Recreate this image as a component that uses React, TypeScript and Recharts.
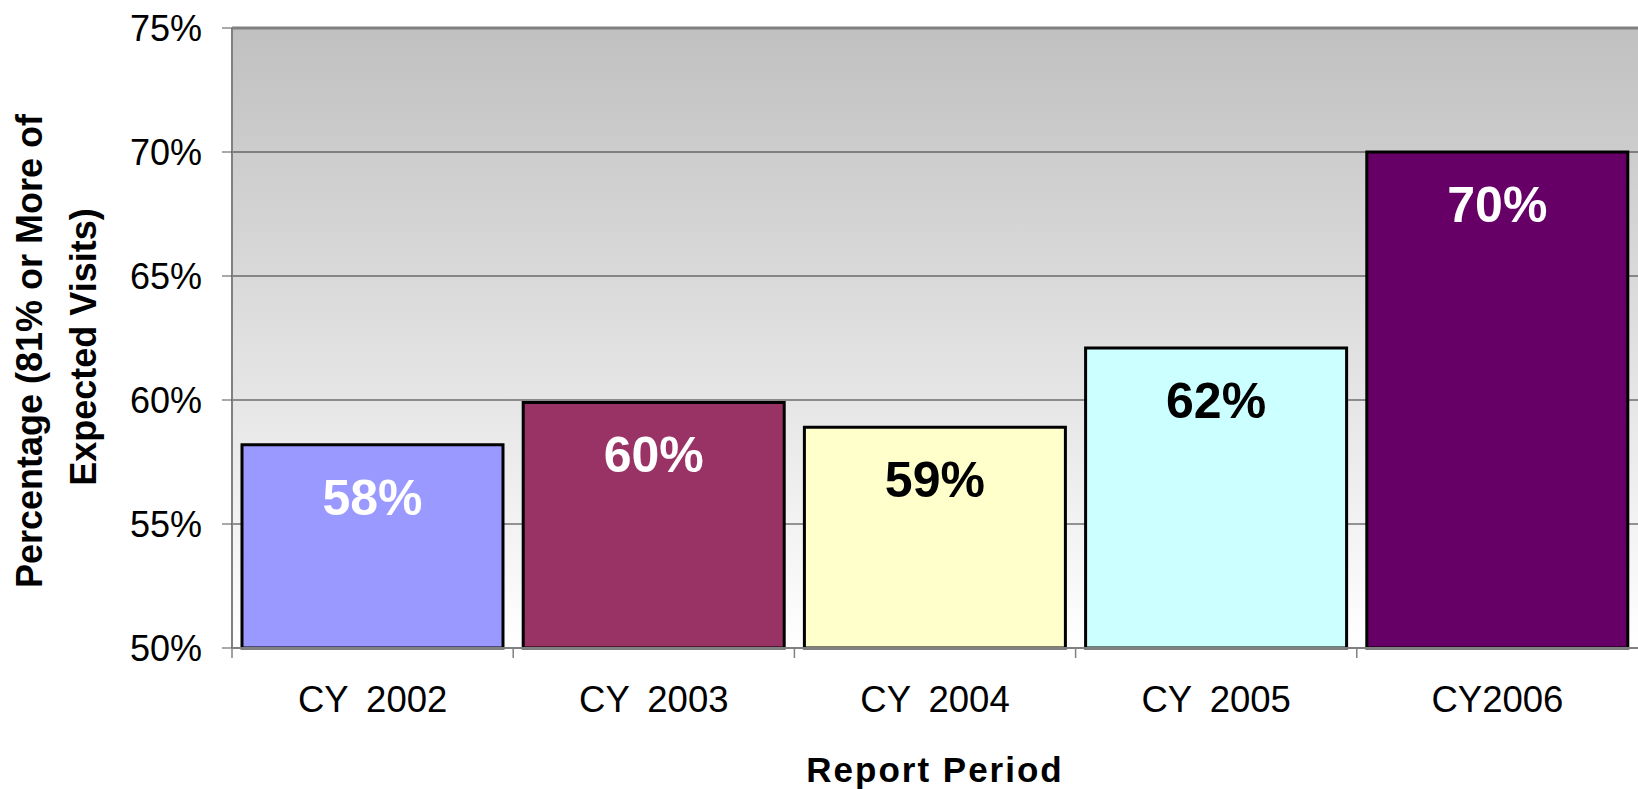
import { BarChart, Bar, XAxis, YAxis, CartesianGrid, ReferenceLine, LabelList, Cell } from "recharts";

const periods = ["CY 2002", "CY 2003", "CY 2004", "CY 2005", "CY2006"];
const percentages = [58.2, 59.9, 58.9, 62.1, 70.0];
const barColors = ["#9999FF", "#993366", "#FFFFCC", "#CCFFFF", "#660066"];
const labelColors = ["#FFFFFF", "#FFFFFF", "#000000", "#000000", "#FFFFFF"];
const yTicks = [50, 55, 60, 65, 70, 75];

const data = periods.map((p, i) => ({ period: p, value: percentages[i] }));

const FONT = "'Liberation Sans', Arial, sans-serif";

// category ticks sit on the band edges, like the original
const XTick = (props: any) => {
  const { x, y, payload } = props;
  const half = payload?.offset ?? 0;
  return (
    <g>
      <line x1={x - half} x2={x - half} y1={y - 38} y2={y - 28} stroke="#808080" strokeWidth={1.5} />
      <text x={x} y={y} dy="0.71em" textAnchor="middle" fontSize={36.5} wordSpacing={8}
        fontFamily={FONT} fill="#000">
        {payload.value}
      </text>
    </g>
  );
};

const ValueLabel = (props: any) => {
  const { x, y, width, value, index } = props;
  return (
    <text x={x + width / 2} y={y + 70} textAnchor="middle" fontSize={50} fontWeight="bold"
      fontFamily={FONT} fill={labelColors[index]}>
      {Math.round(value)}%
    </text>
  );
};

const YTitle = (props: any) => {
  const vb = props.viewBox;
  const cy = vb.y + vb.height / 2;
  return (
    <g fontSize={36} fontWeight="bold" fontFamily={FONT} fill="#000">
      <text x={42} y={cy + 13} textAnchor="middle" transform={`rotate(-90 42 ${cy + 13})`}>
        Percentage (81% or More of
      </text>
      <text x={96} y={cy + 9} textAnchor="middle" transform={`rotate(-90 96 ${cy + 9})`}>
        Expected Visits)
      </text>
    </g>
  );
};

export default function App() {
  return (
    <div style={{ position: "absolute", left: 0, top: 0, width: 1638, height: 789, background: "#fff", overflow: "hidden" }}>
      <BarChart width={1638} height={789} data={data} margin={{ top: 28, right: 0, left: 0, bottom: 0 }}
        barCategoryGap={10}>
        <defs>
          <linearGradient id="plotBg" x1="0" y1="0" x2="0" y2="1">
            <stop offset="0%" stopColor="#C0C0C0" />
            <stop offset="100%" stopColor="#FFFFFF" />
          </linearGradient>
        </defs>
        <CartesianGrid vertical={false} stroke="#333" strokeWidth={1} fill="url(#plotBg)" fillOpacity={1} />
        <XAxis dataKey="period" height={141} tick={<XTick />} tickSize={10} tickMargin={28}
          tickLine={{ stroke: "transparent" }} axisLine={{ stroke: "#808080", strokeWidth: 2 }}
          label={{ value: "Report Period", position: "insideBottom", offset: 7, fontSize: 35, fontWeight: "bold",
            fontFamily: FONT, fill: "#000", letterSpacing: 2 }} />
        <YAxis width={232} domain={[50, 75]} ticks={yTicks} tickFormatter={(v: number) => `${v}%`}
          tickSize={10} tickMargin={20} interval={0}
          tick={{ fontSize: 36, fontFamily: FONT, fill: "#000" }}
          tickLine={{ stroke: "#555" }} axisLine={{ stroke: "#808080", strokeWidth: 2 }}
          label={<YTitle />} />
        <ReferenceLine y={75} stroke="#808080" strokeWidth={3} />
        <Bar dataKey="value" stroke="#000" strokeWidth={3} isAnimationActive={false}>
          {data.map((d, i) => (
            <Cell key={d.period} fill={barColors[i]} />
          ))}
          <LabelList dataKey="value" content={<ValueLabel />} />
        </Bar>
      </BarChart>
    </div>
  );
}
